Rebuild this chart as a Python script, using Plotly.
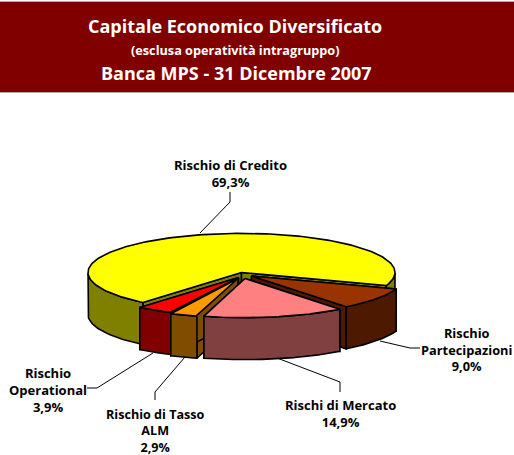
import numpy as np
import plotly.graph_objects as go

# --- data ---
CATEGORIES = ["Rischio di Credito", "Rischio Partecipazioni", "Rischi di Mercato",
              "Rischio di Tasso ALM", "Rischio Operational"]
VALUES = [69.3, 9.0, 14.9, 2.9, 3.9]

# --- style ---
TOP = ["#FFFF00", "#993300", "#FF8080", "#FF9900", "#FF0000"]
WALL = ["#808000", "#4D1900", "#804040", "#804D00", "#800000"]
SHIFT_X = [0, 10, 3.5, -3.5, -3]
SHIFT_Y = [0, 3.5, 6, 6, 5]
DRAW_ORDER = [0, 1, 4, 3, 2]
START = 130.0
CX, CY, RX, KY, DEPTH = 241.5, 272.5, 153.5, 0.255, 42

slices = []
a = START
for v in VALUES:
    slices.append((a, a + v * 3.6))
    a += v * 3.6


def proj(t, r=RX):
    t = np.radians(t)
    return r * np.cos(t), r * np.sin(t) * KY


fig = go.Figure()


def poly(x, y, color):
    fig.add_trace(go.Scatter(x=list(x), y=list(y), mode="lines", fill="toself",
                             fillcolor=color, line=dict(color="black", width=1.6),
                             hoverinfo="skip", showlegend=False))


for i in DRAW_ORDER:
    a0, a1 = slices[i]
    ox, oy = CX + SHIFT_X[i], CY + SHIFT_Y[i]
    ts = np.linspace(a0, a1, 160)
    ax, ay = proj(ts)
    ax, ay = ax + ox, ay + oy
    # cut walls
    for k in (0, -1):
        poly([ox, ax[k], ax[k], ox, ox], [oy, ay[k], ay[k] + DEPTH, oy + DEPTH, oy], WALL[i])
    # outer wall (front part only)
    sel = (np.sin(np.radians(ts)) >= 0)
    if i == 0:
        # the large slice shows two separate front pieces
        idx = np.where(np.diff(np.where(sel)[0]) > 1)[0]
        parts = np.split(np.where(sel)[0], idx + 1)
    else:
        parts = [np.where(sel)[0]]
    for p in parts:
        px, py = ax[p], ay[p]
        poly(np.r_[px, px[::-1], px[0]], np.r_[py, py[::-1] + DEPTH, py[0]], WALL[i])
    # top face
    poly(np.r_[ox, ax, ox], np.r_[oy, ay, oy], TOP[i])

W, H = 514, 455
line = dict(color="black", width=1)
leaders = [
    "M230,192 L230,202 L200,233",
    "M87,388 L97,388 L153,353",
    "M155,400 L155,392 L185,357",
    "M340,392 L340,382 L277,358",
    "M420,348 L410,348 L380,341",
]
shapes = [dict(type="rect", xref="x", yref="y", x0=-2, x1=W + 2, y0=1.5, y1=92.5,
               fillcolor="#800000", line=dict(width=1, color="#B8A8A8"), layer="below")]
shapes += [dict(type="path", path=p, xref="x", yref="y", line=line) for p in leaders]

FONT = "Open Sans"


def label(x, y, text, size=13, color="black"):
    return dict(x=x, y=y, xref="x", yref="y", text=text, showarrow=False, align="center",
                xanchor="center", yanchor="middle",
                font=dict(family=FONT, size=size, color=color))


annotations = [
    label(235, 26, "<b>Capitale Economico Diversificato</b>", 18, "white"),
    label(235, 50, "<b>(esclusa operatività intragruppo)</b>", 12.7, "white"),
    label(236, 73, "<b>Banca MPS - 31 Dicembre 2007</b>", 18, "white"),
    label(230, 173, f"<b>{CATEGORIES[0]}<br>{VALUES[0]:.1f}%</b>".replace(".", ",")),
    label(466, 349, "<b>Rischio<br>Partecipazioni<br>9,0%</b>", 12.8),
    label(340, 413, "<b>Rischi di Mercato<br>14,9%</b>"),
    label(155, 430.5, "<b>Rischio di Tasso<br>ALM<br>2,9%</b>", 12.6),
    label(48, 390, "<b>Rischio<br>Operational<br>3,9%</b>"),
]

fig.update_layout(width=W, height=H, margin=dict(l=0, r=0, t=0, b=0),
                  paper_bgcolor="white", plot_bgcolor="white", shapes=shapes,
                  annotations=annotations, showlegend=False,
                  xaxis=dict(range=[0, W], visible=False, fixedrange=True),
                  yaxis=dict(range=[H, 0], visible=False, fixedrange=True))
fig.write_html("out.html", config={"displayModeBar": False},
               post_script="document.body.style.margin='0';document.body.style.overflow='hidden';")
